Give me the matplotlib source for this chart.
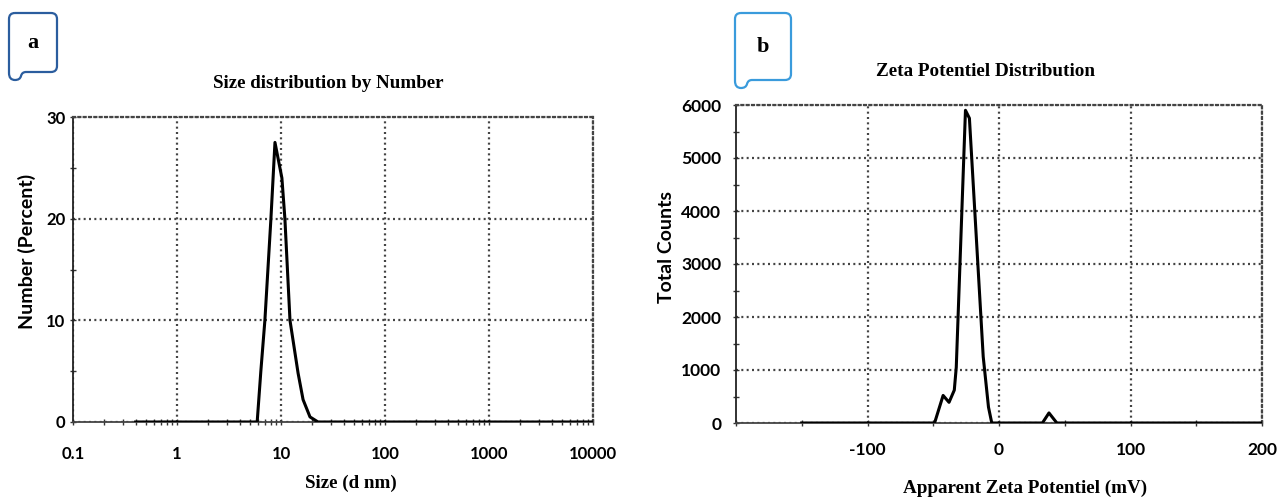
import matplotlib
matplotlib.use('Agg')

import matplotlib.pyplot as plt
from matplotlib.path import Path
from matplotlib.patches import PathPatch
from matplotlib.ticker import FixedLocator, MultipleLocator, LogLocator, NullFormatter

plt.rcParams['axes.unicode_minus'] = False

# --- данные ---
size_nm = [0.4, 5.9, 6.4, 7.0, 8.0, 8.75, 10.2, 10.9, 12.2, 14.6, 16.3, 19.0, 22.7, 10000]
number_pct = [0, 0, 5, 10, 20, 27.5, 24, 20, 10, 4.8, 2.2, 0.5, 0, 0]
size_ticks = [0.1, 1, 10, 100, 1000, 10000]
size_ticklabels = ['0.1', '1', '10', '100', '1000', '10000']
number_ticks = [0, 10, 20, 30]

zeta_mv = [-150, -49, -42.5, -38, -34, -32.5, -25.5, -22.5, -12, -8, -5.5, 33, 38, 44, 200]
zeta_counts = [0, 0, 520, 390, 620, 1050, 5900, 5750, 1250, 300, 0, 0, 190, 0, 0]
zeta_ticks = [-100, 0, 100, 200]
counts_ticks = [0, 1000, 2000, 3000, 4000, 5000, 6000]

W, H = 1282, 500
sans = 'Lato'
serif = 'Liberation Serif'
dots = (0, (0.9, 1.5))
grid_color = '#444444'


def px(x, y):
    # пиксели картинки -> координаты фигуры
    return x / W, 1 - y / H


def badge(fig, x0, x1, y0, y1, ytail, color, letter):
    r = 6
    pts = [
        ((x0 + r, y0), Path.MOVETO),
        ((x1 - r, y0), Path.LINETO),
        ((x1, y0), Path.CURVE3), ((x1, y0 + r), Path.CURVE3),
        ((x1, y1 - r), Path.LINETO),
        ((x1, y1), Path.CURVE3), ((x1 - r, y1), Path.CURVE3),
        ((x0 + 17, y1), Path.LINETO),
        ((x0 + 13, y1), Path.CURVE3), ((x0 + 12, y1 + 4), Path.CURVE3),
        ((x0 + 11, ytail), Path.CURVE3), ((x0 + 6, ytail), Path.CURVE3),
        ((x0, ytail), Path.CURVE3), ((x0, ytail - 7), Path.CURVE3),
        ((x0, y0 + r), Path.LINETO),
        ((x0, y0), Path.CURVE3), ((x0 + r, y0), Path.CURVE3),
    ]
    verts = [px(*p) for p, _ in pts]
    codes = [c for _, c in pts]
    patch = PathPatch(Path(verts, codes), transform=fig.transFigure,
                      facecolor='white', edgecolor=color, lw=1.6)
    fig.patches.append(patch)
    cx, cy = px((x0 + x1) / 2, (y0 + y1) / 2 + 1)
    fig.text(cx, cy, letter, ha='center', va='center', family=serif,
             fontsize=16, fontweight='bold')


def style_axes(ax):
    for side in ['top', 'right']:
        ax.spines[side].set_linestyle(dots)
        ax.spines[side].set_color(grid_color)
        ax.spines[side].set_linewidth(1.6)
    ax.spines['left'].set_color('#222222')
    ax.spines['left'].set_linewidth(1.3)
    ax.spines['bottom'].set_color('#444444')
    ax.spines['bottom'].set_linewidth(1.3)
    ax.grid(True, which='major', linestyle=dots, color=grid_color, linewidth=1.6)
    ax.tick_params(which='both', direction='inout', color='#333333')
    ax.tick_params(which='major', length=5, width=1)
    ax.tick_params(which='minor', length=4, width=1)
    for lab in ax.get_xticklabels() + ax.get_yticklabels():
        lab.set_family(sans)
        lab.set_fontweight('bold')


fig = plt.figure(figsize=(W / 100, H / 100), dpi=100)

# --- панель a ---
ax1 = fig.add_axes([73 / W, 1 - 422 / H, (593 - 73) / W, (422 - 117) / H])
ax1.plot(size_nm, number_pct, color='black', lw=2.2, solid_joinstyle='round', zorder=5)
ax1.set_xscale('log')
ax1.set_xlim(0.1, 10000)
ax1.set_ylim(0, 30)
ax1.xaxis.set_major_locator(FixedLocator(size_ticks))
ax1.set_xticklabels(size_ticklabels)
ax1.xaxis.set_minor_locator(LogLocator(base=10, subs=range(2, 10)))
ax1.xaxis.set_minor_formatter(NullFormatter())
ax1.set_yticks(number_ticks)
ax1.yaxis.set_minor_locator(MultipleLocator(5))
style_axes(ax1)
ax1.tick_params(axis='x', which='major', pad=15, labelsize=12)
ax1.tick_params(axis='y', which='major', pad=3, labelsize=12)

# --- панель b ---
ax2 = fig.add_axes([736 / W, 1 - 423 / H, (1262 - 736) / W, (423 - 105) / H])
ax2.plot(zeta_mv, zeta_counts, color='black', lw=2.2, solid_joinstyle='round', zorder=5)
ax2.set_xlim(-200, 200)
ax2.set_ylim(0, 6000)
ax2.set_xticks(zeta_ticks)
ax2.xaxis.set_minor_locator(MultipleLocator(50))
ax2.set_yticks(counts_ticks)
ax2.yaxis.set_minor_locator(MultipleLocator(500))
style_axes(ax2)
ax2.tick_params(axis='x', which='major', pad=11, labelsize=12.5)
ax2.tick_params(axis='y', which='major', pad=8, labelsize=12.5)

# --- подписи ---
fig.text(*px(328, 84), 'Size distribution by Number', ha='center', va='center',
         family=serif, fontsize=13.7, fontweight='bold')
fig.text(*px(351, 483), 'Size (d nm)', ha='center', va='center',
         family=serif, fontsize=13.7, fontweight='bold')
fig.text(*px(27, 251), 'Number (Percent)', ha='center', va='center', rotation=90,
         family=sans, fontsize=14, fontweight='bold')

fig.text(*px(985, 72), 'Zeta Potentiel Distribution', ha='center', va='center',
         family=serif, fontsize=13.8, fontweight='bold')
fig.text(*px(1025, 488), 'Apparent Zeta Potentiel (mV)', ha='center', va='center',
         family=serif, fontsize=13.8, fontweight='bold')
fig.text(*px(667, 247), 'Total Counts', ha='center', va='center', rotation=90,
         family=sans, fontsize=14, fontweight='bold')

badge(fig, 9, 57, 13, 72, 80, '#2b5d9e', 'a')
badge(fig, 735, 791, 13, 80, 88, '#3a9bdc', 'b')

fig.savefig('out.png', dpi=100, facecolor='white')
